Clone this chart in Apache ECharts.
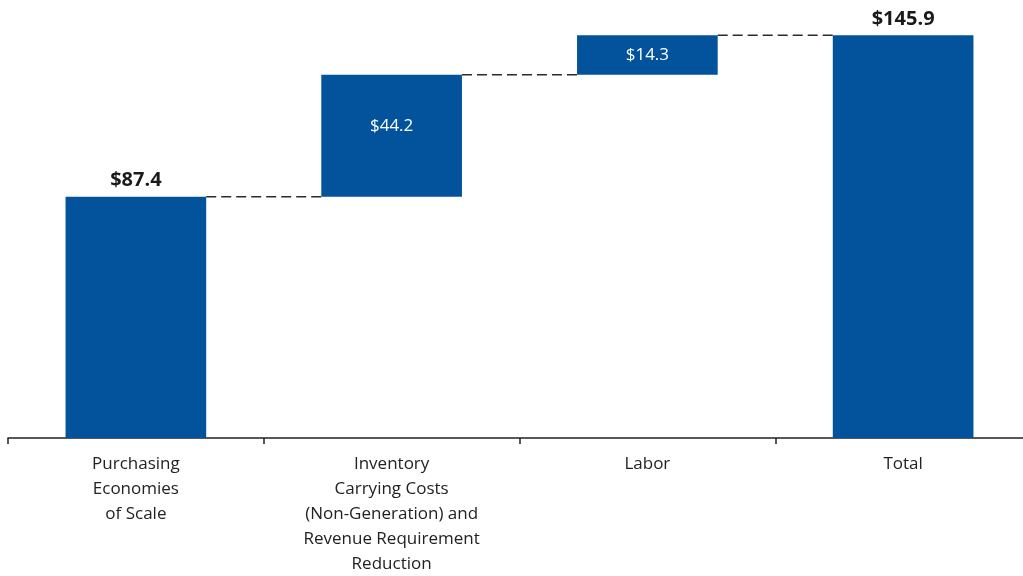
<!DOCTYPE html>
<html>
<head>
<meta charset="utf-8">
<script src="https://cdn.jsdelivr.net/npm/echarts@6/dist/echarts.min.js"></script>
<style>
html,body{margin:0;padding:0;background:#fff;}
#chart{width:1023px;height:576px;}
</style>
</head>
<body>
<div id="chart"></div>
<script>
// Category tick labels
var categories = [
  "Purchasing\nEconomies\nof Scale",
  "Inventory\nCarrying Costs\n(Non-Generation) and\nRevenue Requirement\nReduction",
  "Labor",
  "Total"
];
// Visible bar values (segment sizes)
var values = [87.4, 44.2, 14.3, 145.9];
// Invisible base for waterfall
var bases = [0, 87.4, 131.6, 0];
// Which bars are totals (label above, bold)
var isTotal = [true, false, false, true];

var BLUE = '#02539B';
var BAR_RATIO = 0.55;

// connector levels: top of bar i, connecting bar i to bar i+1
var connectors = [];
for (var i = 0; i < values.length - 1; i++) {
  connectors.push([i, bases[i] + values[i]]);
}

var chart = echarts.init(document.getElementById('chart'), null, {renderer: 'canvas'});

var valueData = values.map(function (v, i) {
  if (isTotal[i]) {
    return {
      value: v,
      label: {
        show: true, position: 'top', distance: 6,
        color: '#1a1a1a', fontWeight: 'bold', fontSize: 20,
        fontFamily: 'Open Sans'
      }
    };
  }
  return {
    value: v,
    label: {
      show: true, position: 'inside',
      offset: [0, i === 1 ? -10 : 0],
      color: '#ffffff', fontSize: 17, fontFamily: 'Open Sans'
    }
  };
});

var option = {
  animation: false,
  backgroundColor: '#ffffff',
  grid: {left: 8, width: 1023, top: 24, bottom: 138, containLabel: false, outerBoundsMode: 'none'},
  xAxis: {
    type: 'category',
    data: categories,
    axisLine: {show: true, lineStyle: {color: '#222', width: 1.5}},
    axisTick: {show: true, length: 6, lineStyle: {color: '#222', width: 1.5}},
    axisLabel: {
      interval: 0, margin: 14, color: '#222', fontSize: 17,
      lineHeight: 25, fontFamily: 'Open Sans'
    }
  },
  yAxis: {
    type: 'value', min: 0, max: 150,
    show: false,
    splitLine: {show: false}
  },
  series: [
    {
      type: 'bar', stack: 'w', barWidth: (BAR_RATIO * 100) + '%',
      itemStyle: {color: 'transparent'},
      emphasis: {disabled: true},
      data: bases
    },
    {
      type: 'bar', stack: 'w', barWidth: (BAR_RATIO * 100) + '%',
      itemStyle: {color: BLUE},
      label: {
        formatter: function (p) { return '$' + p.value.toFixed(1); }
      },
      data: valueData
    },
    {
      type: 'custom',
      renderItem: function (params, api) {
        var idx = api.value(0);
        var level = api.value(1);
        var p1 = api.coord([idx, level]);
        var p2 = api.coord([idx + 1, level]);
        var bw = api.size([1, 0])[0] * BAR_RATIO;
        return {
          type: 'line',
          shape: {x1: p1[0] + bw / 2, y1: p1[1], x2: p2[0] - bw / 2, y2: p2[1]},
          style: {stroke: '#2b2b2b', lineWidth: 1.6, lineDash: [10, 5]}
        };
      },
      data: connectors,
      z: 5
    }
  ]
};
chart.setOption(option);
</script>
</body>
</html>
